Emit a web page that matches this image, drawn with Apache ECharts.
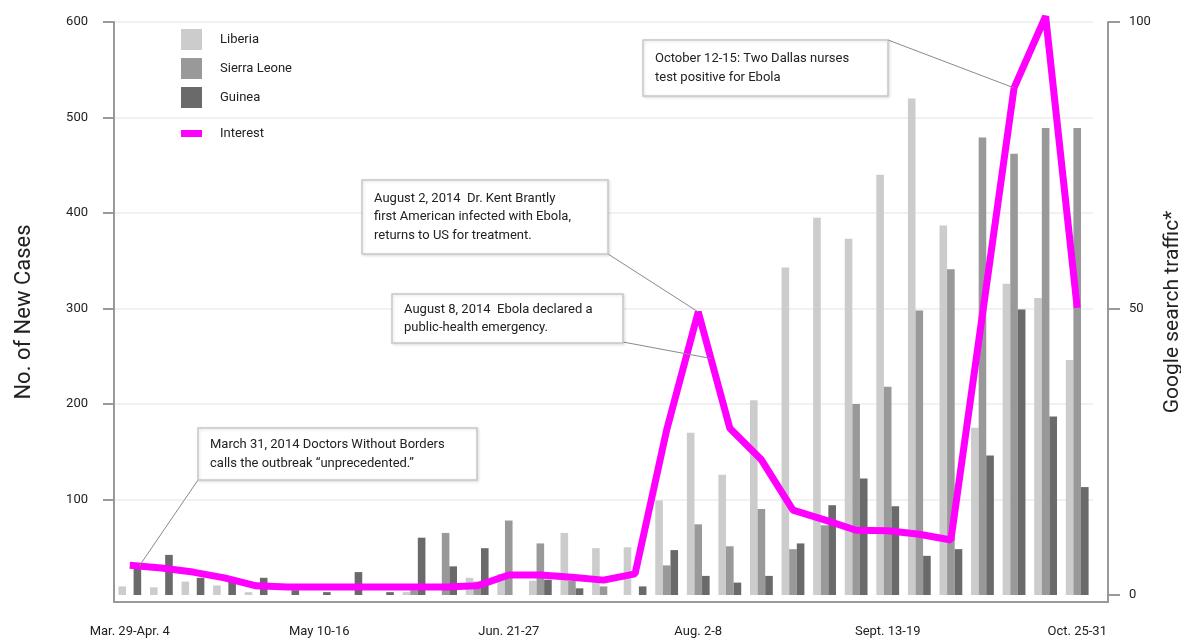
<!DOCTYPE html>
<html><head><meta charset="utf-8">
<script src="https://cdn.jsdelivr.net/npm/echarts@6/dist/echarts.min.js"></script>
<style>html,body{margin:0;padding:0;background:#fff}#c{width:1181px;height:640px}</style>
</head><body><div id="c"></div>
<script>
const weeks = ['Mar. 29-Apr. 4','Apr. 5-11','Apr. 12-18','Apr. 19-25','Apr. 26-May 2','May 3-9','May 10-16','May 17-23','May 24-30','May 31-Jun. 6','Jun. 7-13','Jun. 14-20','Jun. 21-27','Jun. 28-Jul. 4','Jul. 5-11','Jul. 12-18','Jul. 19-25','Jul. 26-Aug. 1','Aug. 2-8','Aug. 9-15','Aug. 16-22','Aug. 23-29','Aug. 30-Sept. 5','Sept. 6-12','Sept. 13-19','Sept. 20-26','Sept. 27-Oct. 3','Oct. 4-10','Oct. 11-17','Oct. 18-24','Oct. 25-31'];
const liberia     = [9, 8, 14, 10, 3, 0, 0, 0, 0, 3, 0, 18, 22, 15, 65, 49, 50, 99, 170, 126, 204, 343, 395, 373, 440, 520, 387, 175, 326, 311, 246];
const sierraLeone = [0, 0, 0, 0, 0, 0, 0, 0, 0, 5, 65, 14, 78, 54, 15, 9, 0, 31, 74, 51, 90, 48, 73, 200, 218, 298, 341, 479, 462, 489, 489];
const guinea      = [30, 42, 18, 14, 18, 5, 3, 24, 3, 60, 30, 49, 0, 16, 7, 0, 9, 47, 20, 13, 20, 54, 94, 122, 93, 41, 48, 146, 299, 187, 113];
const interest    = [5.2, 4.7, 4.0, 3.0, 1.6, 1.4, 1.4, 1.4, 1.4, 1.4, 1.4, 1.6, 3.5, 3.5, 3.1, 2.6, 3.7, 28.8, 49.4, 29.1, 23.6, 14.8, 13.1, 11.3, 11.2, 10.6, 9.6, 49.0, 88.5, 101, 50.1];
const leftTicks  = [100, 200, 300, 400, 500, 600];
const rightTicks = [0, 50, 100];

const notes = [
  {lines:['March 31, 2014 Doctors Without Borders','calls the outbreak \u201cunprecedented.\u201d'], box:[198,428,279,52], from:'bl', at:0.3},
  {lines:['August 2, 2014  Dr. Kent Brantly','first American infected with Ebola,','returns to US for treatment.'], box:[362,180,246,74], from:'br', at:18},
  {lines:['August 8, 2014  Ebola declared a','public-health emergency.'], box:[392,294,231,49], from:'rb', at:18.4},
  {lines:['October 12-15: Two Dallas nurses','test positive for Ebola'], box:[643,40,245,56], from:'tr', at:28}
];

const FONT = 'Roboto, "Liberation Sans", sans-serif';
const chart = echarts.init(document.getElementById('c'));
const axisGray = '#999';
const rightOffset = 15;
chart.setOption({
  backgroundColor:'#fff',
  animation:false,
  textStyle:{fontFamily:FONT},
  grid:{left:114, right:88, top:22, bottom:38, outerBoundsMode:'none', containLabel:false},
  legend:[
    {data:['Liberia','Sierra Leone','Guinea'], orient:'vertical', left:181, top:29, itemWidth:21, itemHeight:21, itemGap:8, padding:0, icon:'rect',
     textStyle:{fontSize:13, color:'#222', fontFamily:FONT, padding:[0,0,0,13]}},
    {data:['Interest'], orient:'vertical', left:181, top:127, itemWidth:21, itemHeight:7, padding:0, icon:'rect',
     textStyle:{fontSize:13, color:'#222', fontFamily:FONT, padding:[0,0,0,13]}}
  ],
  xAxis:{type:'category', data:weeks, boundaryGap:true,
    axisLine:{onZero:false, lineStyle:{color:axisGray, width:2}},
    axisTick:{interval:5, alignWithLabel:true, length:14, lineStyle:{color:axisGray, width:2}},
    axisLabel:{interval:5, margin:23, fontSize:13, color:'#222', fontFamily:FONT}},
  yAxis:[
    {type:'value', position:'left', min:-7.33, max:600,
     name:'No. of New Cases', nameLocation:'middle', nameGap:79, nameRotate:90,
     nameTextStyle:{fontSize:22, color:'#222', fontFamily:FONT},
     axisLine:{show:true, lineStyle:{color:axisGray, width:2}},
     axisTick:{show:true, length:11, customValues:leftTicks, lineStyle:{color:axisGray, width:2}},
     axisLabel:{customValues:leftTicks, margin:26, fontSize:13, color:'#222', fontFamily:FONT},
     splitLine:{show:true, lineStyle:{color:'#ececec', width:1.5}}},
    {type:'value', position:'right', offset:rightOffset, min:-1.22, max:100,
     name:'Google search traffic*', nameLocation:'middle', nameGap:46, nameRotate:90,
     nameTextStyle:{fontSize:21, color:'#222', fontFamily:FONT},
     axisLine:{show:true, lineStyle:{color:axisGray, width:2}},
     axisTick:{show:true, length:12, customValues:rightTicks, lineStyle:{color:axisGray, width:2}},
     axisLabel:{customValues:rightTicks, margin:21, fontSize:13, color:'#222', fontFamily:FONT},
     splitLine:{show:false}}
  ],
  series:[
    {name:'Liberia', type:'bar', data:liberia, barWidth:7.6, barGap:'0%', itemStyle:{color:'#cccccc'}},
    {name:'Sierra Leone', type:'bar', data:sierraLeone, barWidth:7.6, barGap:'0%', itemStyle:{color:'#999999'}},
    {name:'Guinea', type:'bar', data:guinea, barWidth:7.6, barGap:'0%', itemStyle:{color:'#6a6a6a'}},
    {name:'Interest', type:'line', yAxisIndex:1, data:interest, symbol:'none', clip:false, z:5,
     itemStyle:{color:'#ff00ff'}, lineStyle:{color:'#ff00ff', width:7, join:'bevel'}}
  ]
});

function linePt(t){
  const i = Math.floor(t), f = t - i;
  const a = chart.convertToPixel({xAxisIndex:0, yAxisIndex:1}, [i, interest[i]]);
  if (f === 0 || i + 1 >= interest.length) return a;
  const b = chart.convertToPixel({xAxisIndex:0, yAxisIndex:1}, [i+1, interest[i+1]]);
  return [a[0] + (b[0]-a[0])*f, a[1] + (b[1]-a[1])*f];
}
const graphics = [];
// extend the baseline to the offset right axis
const lastX = chart.convertToPixel({xAxisIndex:0}, weeks.length-1);
const prevX = chart.convertToPixel({xAxisIndex:0}, weeks.length-2);
const gridRight = lastX + (lastX - prevX)/2;
const baseY = chart.convertToPixel({yAxisIndex:0}, -7.33);
graphics.push({type:'line', z:50, shape:{x1:gridRight-1, y1:baseY, x2:gridRight+rightOffset+1, y2:baseY}, style:{stroke:axisGray, lineWidth:2}});
notes.forEach(n => {
  const [x,y,w,h] = n.box;
  const corner = {bl:[x,y+h], br:[x+w,y+h], tr:[x+w,y], rb:[x+w,y+h-1]}[n.from];
  const p = linePt(n.at);
  graphics.push({type:'line', z:90, shape:{x1:corner[0], y1:corner[1], x2:p[0], y2:p[1]}, style:{stroke:'#8a8a8a', lineWidth:1}});
  graphics.push({type:'rect', z:100, shape:{x:x, y:y, width:w, height:h},
    style:{fill:'#fff', stroke:'#c8c8c8', lineWidth:1.5, shadowBlur:3, shadowColor:'rgba(0,0,0,0.12)', shadowOffsetX:1, shadowOffsetY:1}});
  const lh = 18.5;
  graphics.push({type:'text', z:101, style:{text:n.lines.join('\n'), x:x+12, y:y+(h-n.lines.length*lh)/2,
    fill:'#222', fontSize:13, fontFamily:FONT, lineHeight:lh, verticalAlign:'top', align:'left'}});
});
chart.setOption({graphic:graphics});
</script>
</body></html>
